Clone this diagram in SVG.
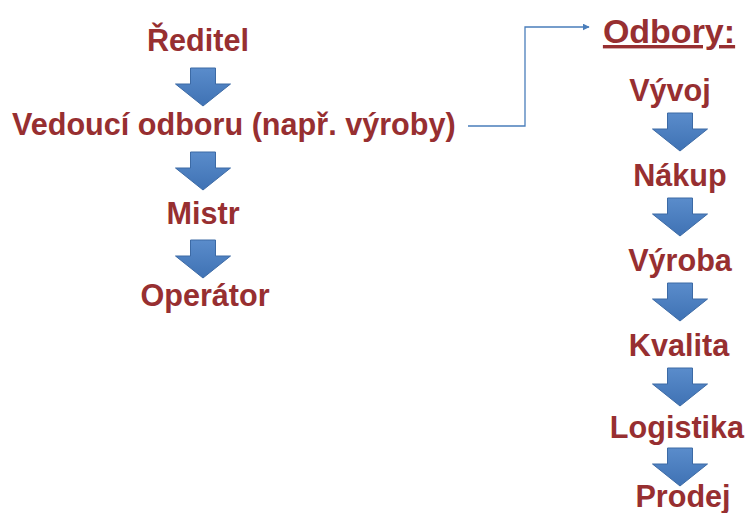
<svg xmlns="http://www.w3.org/2000/svg" width="746" height="513" viewBox="0 0 746 513">
  <style>
    .lbl { font-family: "Liberation Sans", Arial, sans-serif; font-weight: bold; font-size: 30.6px; fill: #972F31; text-anchor: middle; }
    .head { font-size: 34px; text-decoration: underline; }
    .link { fill: none; stroke: #4A7EBB; stroke-width: 1.3; }
    .blk { fill: url(#blue); stroke: #3C6AA5; stroke-width: 1; }
  </style>
  <defs>
    <linearGradient id="blue" x1="0" y1="0" x2="0" y2="1">
      <stop offset="0" stop-color="#5A8CCB"/>
      <stop offset="1" stop-color="#3F72B4"/>
    </linearGradient>
    <!-- block arrow pointing down, origin at top centre -->
    <path id="down" class="blk" d="M -12.5 0 H 12.5 V 16 H 27.5 L 0 38 L -27.5 16 H -12.5 Z"/>
    <marker id="tip" viewBox="0 0 10 10" refX="9" refY="5" markerWidth="7" markerHeight="7" orient="auto" markerUnits="userSpaceOnUse">
      <path d="M0 0 L10 5 L0 10 Z" fill="#4A7EBB"/>
    </marker>
  </defs>

  <rect width="746" height="513" fill="#FFFFFF"/>

  <!-- connectors -->
  <g id="connectors">
    <polyline class="link" points="468,126 525,126 525,27 589,27" marker-end="url(#tip)"/>
    <use href="#down" x="203" y="68"/>
    <use href="#down" x="203" y="152"/>
    <use href="#down" x="203" y="240"/>
    <use href="#down" x="680" y="113"/>
    <use href="#down" x="680" y="198"/>
    <use href="#down" x="680" y="283"/>
    <use href="#down" x="680" y="368"/>
    <use href="#down" x="680" y="448"/>
  </g>

  <!-- left hierarchy -->
  <g id="reditel"><text class="lbl" x="198" y="51">Ředitel</text></g>
  <g id="vedouci"><text class="lbl" x="12" y="135" style="text-anchor:start">Vedoucí odboru (např. výroby)</text></g>
  <g id="mistr"><text class="lbl" x="203" y="224">Mistr</text></g>
  <g id="operator"><text class="lbl" x="205" y="306">Operátor</text></g>

  <!-- departments -->
  <g id="odbory"><text class="lbl head" x="669" y="43">Odbory:</text></g>
  <g id="vyvoj"><text class="lbl" x="670" y="101">Vývoj</text></g>
  <g id="nakup"><text class="lbl" x="680" y="186">Nákup</text></g>
  <g id="vyroba"><text class="lbl" x="680" y="271">Výroba</text></g>
  <g id="kvalita"><text class="lbl" x="679" y="356">Kvalita</text></g>
  <g id="logistika"><text class="lbl" x="677" y="438">Logistika</text></g>
  <g id="prodej"><text class="lbl" x="683" y="507">Prodej</text></g>
</svg>
